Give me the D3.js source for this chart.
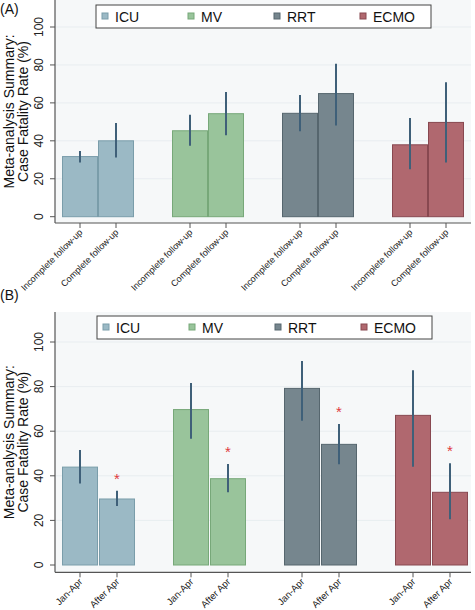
<!DOCTYPE html>
<html>
<head>
<meta charset="utf-8">
<script src="https://cdn.jsdelivr.net/npm/d3@7"></script>
<style>
body{margin:0;background:#fff;}
svg{display:block;font-family:"Liberation Sans",Arial,sans-serif;}
</style>
</head>
<body>
<svg id="chart" width="475" height="610"></svg>
<script>
const groups = ["ICU","MV","RRT","ECMO"];
const fills = ["#9bb9c5","#99c49b","#76868e","#b0686f"];
const strokes = ["#7a9daa","#77a879","#56666e","#884850"];
const yTicks = [0,20,40,60,80,100];

// Panel A
const labelsA = ["Incomplete follow-up","Complete follow-up"];
const valuesA = [[31.7,40.0],[45.3,54.3],[54.5,64.9],[37.9,49.7]];
const lowA    = [[28.6,31.2],[37.4,43.0],[45.0,48.1],[25.0,28.6]];
const highA   = [[34.6,49.4],[53.8,65.8],[64.2,80.6],[52.0,70.9]];

// Panel B
const labelsB = ["Jan-Apr","After Apr"];
const valuesB = [[43.9,29.6],[69.7,38.7],[79.2,54.1],[67.1,32.6]];
const lowB    = [[36.5,26.5],[56.6,32.6],[64.7,45.2],[44.1,20.5]];
const highB   = [[51.6,33.3],[81.6,45.3],[91.5,63.2],[87.3,45.6]];
const starB   = [[false,true],[false,true],[false,true],[false,true]];

const svg = d3.select("#chart");

function panel(cfg){
  const g = svg.append("g");
  const left = 55, right = 471;
  const y = d3.scaleLinear().domain([0,100]).range([cfg.y0, cfg.y100]);
  const yTop = cfg.top, yBot = cfg.axisY;
  const cats = [];
  groups.forEach((gr,i)=>cfg.labels.forEach((lb,j)=>cats.push({gi:i,j:j,label:lb})));
  const xg = d3.scaleBand().domain(groups).range([cfg.start, cfg.start + cfg.gstep*groups.length]);
  const pos = c => xg(groups[c.gi]) + c.j*cfg.wstep;
  const bw = 35;

  g.append("rect").attr("x",left).attr("y",yTop).attr("width",right-left).attr("height",yBot-yTop).attr("fill","#f6f8f9");
  g.selectAll(".grid").data(yTicks.filter(t=>t>0)).join("line")
    .attr("x1",left).attr("x2",right).attr("y1",d=>y(d)).attr("y2",d=>y(d))
    .attr("stroke","#e8edf0").attr("stroke-width",1);

  cats.forEach(c=>{
    const v = cfg.values[c.gi][c.j];
    const cx = pos(c);
    g.append("rect").attr("x",cx-bw/2).attr("y",y(v)).attr("width",bw).attr("height",y(0)-y(v))
      .attr("fill",fills[c.gi]).attr("stroke",strokes[c.gi]).attr("stroke-width",1);
  });
  cats.forEach(c=>{
    const cx = pos(c);
    g.append("line").attr("x1",cx).attr("x2",cx)
      .attr("y1",y(cfg.low[c.gi][c.j])).attr("y2",y(cfg.high[c.gi][c.j]))
      .attr("stroke","#3f6079").attr("stroke-width",2);
    if(cfg.stars && cfg.stars[c.gi][c.j]){
      g.append("text").attr("x",cx).attr("y",y(cfg.high[c.gi][c.j]+5.8)+6)
        .attr("text-anchor","middle").attr("font-size",15).attr("fill","#e03a3e").text("*");
    }
  });

  const ya = g.append("g").attr("transform",`translate(${left},0)`);
  ya.append("line").attr("x1",0).attr("x2",0).attr("y1",yTop).attr("y2",yBot).attr("stroke","#555").attr("stroke-width",1.2);
  yTicks.forEach(t=>{
    ya.append("line").attr("x1",-5).attr("x2",0).attr("y1",y(t)).attr("y2",y(t)).attr("stroke","#555");
    ya.append("text").attr("transform",`translate(-12,${y(t)}) rotate(-90)`)
      .attr("text-anchor","middle").attr("font-size",12).attr("fill","#222").text(t);
  });
  g.append("line").attr("x1",left).attr("x2",right).attr("y1",yBot).attr("y2",yBot).attr("stroke","#555").attr("stroke-width",1.2);
  cats.forEach(c=>{
    const cx = pos(c);
    g.append("line").attr("x1",cx).attr("x2",cx).attr("y1",yBot).attr("y2",yBot+5).attr("stroke","#555");
    g.append("text").attr("transform",`translate(${cx+3},${yBot+10}) rotate(-45)`)
      .attr("text-anchor","end").attr("font-size",cfg.xfs).attr("fill","#222").text(c.label);
  });
  const cy = (yTop+yBot)/2;
  g.append("text").attr("transform",`translate(14,${cy}) rotate(-90)`).attr("text-anchor","middle")
    .attr("font-size",14).attr("fill","#111").text("Meta-analysis Summary:");
  g.append("text").attr("transform",`translate(28,${cy}) rotate(-90)`).attr("text-anchor","middle")
    .attr("font-size",14).attr("fill","#111").text("Case Fatality Rate (%)");
  g.append("text").attr("x",0).attr("y",cfg.labY).attr("font-size",14).attr("fill","#111").text(cfg.panel);
  const lg = g.append("g");
  lg.append("rect").attr("x",cfg.legX).attr("y",cfg.legY).attr("width",335).attr("height",23)
    .attr("fill","#fff").attr("stroke","#444").attr("stroke-width",1);
  const offs = [0,86,172,258];
  groups.forEach((gr,i)=>{
    lg.append("rect").attr("x",cfg.legX+6+offs[i]).attr("y",cfg.legY+8).attr("width",6).attr("height",6)
      .attr("fill",fills[i]).attr("stroke",strokes[i]);
    lg.append("text").attr("x",cfg.legX+19+offs[i]).attr("y",cfg.legY+17).attr("font-size",14).attr("fill","#111").text(gr);
  });
}

panel({top:0, axisY:223, y0:216.7, y100:27, start:80, gstep:110, wstep:36,
  labels:labelsA, values:valuesA, low:lowA, high:highA, stars:null, xfs:9,
  panel:"(A)", labY:14, legX:96, legY:5});
panel({top:312, axisY:572.3, y0:565, y100:342, start:80, gstep:111, wstep:37,
  labels:labelsB, values:valuesB, low:lowB, high:highB, stars:starB, xfs:9.5,
  panel:"(B)", labY:300, legX:97, legY:316});
</script>
</body>
</html>
